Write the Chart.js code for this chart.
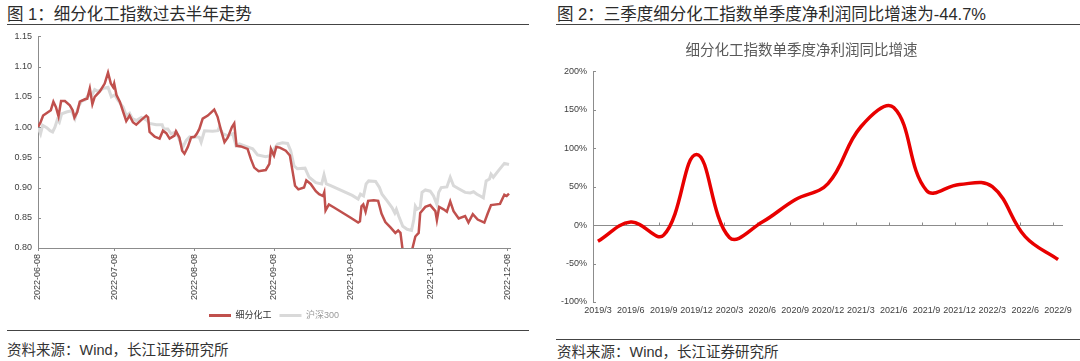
<!DOCTYPE html>
<html>
<head>
<meta charset="utf-8">
<script src="https://cdn.jsdelivr.net/npm/chart.js@4/dist/chart.umd.min.js"></script>
<style>
  body { margin: 0; width: 1080px; height: 361px; background: #fff; position: relative; overflow: hidden;
         font-family: "Liberation Sans", "Noto Sans CJK SC", sans-serif; color: #333; }
  .t { position: absolute; white-space: nowrap; line-height: 20px; }
  .head { font-size: 16.5px; color: #2b2b2b; }
  .src { font-size: 14.5px; color: #333; }
  .rule { position: absolute; height: 0; border-top: 1px solid #444; }
  canvas { position: absolute; }
</style>
</head>
<body>
<div class="t head" style="left:7px; top:4px;">图 1：细分化工指数过去半年走势</div>
<div class="rule" style="left:7px; top:24px; width:522px;"></div>
<canvas id="index-chart" width="540" height="305" style="left:0; top:25px;"></canvas>
<div class="rule" style="left:7px; top:330px; width:522px;"></div>
<div class="t src" style="left:7px; top:340px;">资料来源：Wind，长江证券研究所</div>

<div class="t head" style="left:557px; top:4px;">图 2：三季度细分化工指数单季度净利润同比增速为-44.7%</div>
<div class="rule" style="left:556px; top:24px; width:524px;"></div>
<canvas id="profit-chart" width="540" height="297" style="left:540px; top:30px;"></canvas>
<div class="rule" style="left:556px; top:339px; width:524px;"></div>
<div class="t src" style="left:557px; top:342px;">资料来源：Wind，长江证券研究所</div>

<script>
// 图1 数据：自 2022-06-08 起的天数 + 指数值
var tickDates = ['2022-06-08', '2022-07-08', '2022-08-08', '2022-09-08', '2022-10-08', '2022-11-08', '2022-12-08'];

var indexDays = [0, 1, 2, 4, 5, 6, 7, 8, 9, 10.5, 12.4, 13.5, 14.2, 15.3, 16.3, 18.3, 19.2, 20.2, 21.2, 22.1,
    24.1, 26, 27.3, 28.4, 29.3, 29.7, 30.6, 31.9, 33.2, 34.4, 35.7, 37, 38.3, 40.3, 42.2, 42.9, 43.5, 45.5, 47.4, 48.7,
    50, 51.3, 53.2, 53.8, 55.1, 56.2, 57.1, 58.4, 59.7, 61, 61.9, 62.9, 64.2, 66.2, 68.7, 70, 71.4, 72.7, 74, 75.6,
    76.5, 77.4, 79.1, 81.7, 83, 84.3, 86, 88.8, 90.2, 90.8, 92, 92.9, 94.3, 96.6, 98.2, 99.2, 100.2, 101.5, 103.7, 104.6,
    106.3, 108.3, 109.6, 111.1, 111.6, 112.1, 113.4, 115.4, 121.9, 124.8, 125.5, 126.1, 126.8, 127.7, 128.7, 130.9, 132.6, 133.9, 135.4, 137.4,
    139.3, 140.4, 141.3, 142.2, 143.2, 144.2, 145.1, 146, 147.1, 148.4, 149, 151, 152.9, 154.9, 155.5, 156.4, 158.1, 159.4, 160.7, 162,
    164, 166.5, 167.8, 169.5, 171.4, 174, 175.3, 176.6, 180.1, 181.8, 182.7, 183.6];
var indexValues = [1.000, 1.008, 1.019, 1.025, 1.028, 1.042, 1.033, 1.018, 1.043, 1.043, 1.036, 1.028, 1.016, 1.025, 1.042, 1.046, 1.047, 1.064, 1.038, 1.050,
    1.059, 1.072, 1.090, 1.072, 1.066, 1.072, 1.053, 1.042, 1.025, 1.010, 1.019, 1.008, 1.004, 1.012, 1.019, 1.016, 0.992, 0.984, 0.981, 0.994,
    0.990, 0.981, 0.986, 0.993, 0.983, 0.961, 0.956, 0.967, 0.983, 0.984, 0.989, 0.997, 1.014, 1.019, 1.029, 1.017, 0.994, 0.975, 0.983, 1.000,
    1.006, 0.969, 0.968, 0.964, 0.947, 0.933, 0.927, 0.929, 0.939, 0.964, 0.953, 0.967, 0.966, 0.961, 0.953, 0.928, 0.903, 0.897, 0.900, 0.912,
    0.906, 0.894, 0.889, 0.886, 0.892, 0.862, 0.872, 0.867, 0.850, 0.842, 0.844, 0.869, 0.872, 0.860, 0.878, 0.879, 0.878, 0.857, 0.843, 0.834,
    0.825, 0.829, 0.825, 0.795, 0.770, 0.770, 0.780, 0.800, 0.819, 0.825, 0.858, 0.868, 0.871, 0.861, 0.846, 0.868, 0.864, 0.860, 0.877, 0.861,
    0.849, 0.853, 0.842, 0.856, 0.847, 0.842, 0.857, 0.871, 0.873, 0.888, 0.886, 0.890];

var hs300Days = [0, 1, 1.8, 3.4, 4.7, 5.7, 6.6, 7.5, 8.3, 9.2, 11.1, 13.1, 14.4, 15.7, 17, 18.3, 19.6, 20.8, 22.1, 23.4,
    25.4, 27.3, 28.6, 29.9, 31.2, 33.2, 34.4, 35.7, 36.8, 38.3, 40.3, 42.2, 43.5, 46.1, 48.4, 49, 50.6, 51.9, 53.9, 55.8,
    56.5, 57.8, 59.1, 60.3, 61.6, 62.9, 63.6, 64.9, 68.1, 70.1, 70.7, 72, 73.9, 75.9, 77.2, 78.5, 81.1, 83.7, 85.6, 88.8,
    90.8, 92.1, 93.4, 95.3, 97.3, 98.5, 99.8, 101.1, 104.1, 105.7, 108.3, 110.6, 111.5, 112.4, 114.1, 122.5, 124.8, 125.7, 126.9, 127.9,
    128.9, 131.6, 133.1, 134.1, 136.1, 138, 139.1, 139.7, 140.6, 142.2, 143.9, 145.6, 146.5, 147.1, 147.8, 149, 149.7, 151, 152.9, 154.2,
    155.5, 156.2, 157.2, 159.4, 160.7, 162, 164, 166.5, 168.5, 169.8, 171.1, 172.4, 173.6, 174.7, 176, 176.6, 177.5, 179.5, 181.8, 183.6];
var hs300Values = [1.000, 0.989, 1.003, 0.999, 0.994, 0.992, 1.000, 1.012, 1.008, 1.022, 1.025, 1.027, 1.014, 1.033, 1.043, 1.045, 1.053, 1.051, 1.062, 1.059,
    1.064, 1.066, 1.050, 1.053, 1.044, 1.033, 1.019, 1.023, 1.014, 1.011, 1.016, 1.012, 1.006, 1.004, 1.004, 0.997, 0.997, 0.989, 0.992, 0.972,
    0.967, 0.978, 0.984, 0.983, 0.984, 0.983, 0.975, 0.994, 0.993, 0.994, 1.000, 0.989, 0.986, 0.989, 0.969, 0.972, 0.968, 0.964, 0.954, 0.951,
    0.953, 0.964, 0.972, 0.974, 0.973, 0.961, 0.936, 0.931, 0.932, 0.917, 0.908, 0.906, 0.921, 0.906, 0.903, 0.887, 0.881, 0.889, 0.886, 0.906,
    0.911, 0.910, 0.900, 0.889, 0.878, 0.867, 0.858, 0.864, 0.853, 0.836, 0.831, 0.829, 0.847, 0.869, 0.864, 0.867, 0.892, 0.896, 0.894, 0.886,
    0.872, 0.892, 0.900, 0.901, 0.917, 0.903, 0.898, 0.892, 0.891, 0.893, 0.889, 0.886, 0.883, 0.911, 0.914, 0.922, 0.917, 0.928, 0.940, 0.938];

// 图2 数据：单季度净利润同比增速(%)
var quarters = ['2019/3', '2019/6', '2019/9', '2019/12', '2020/3', '2020/6', '2020/9', '2020/12',
    '2021/3', '2021/6', '2021/9', '2021/12', '2022/3', '2022/6', '2022/9'];
var growth = [-21, 4, -13, 92, -16, 4, 33, 54, 128, 153, 45, 53, 50, -15, -44.7];

var fontStack = '"Liberation Sans", "Noto Sans CJK SC", sans-serif';
var axisColor = '#8c8c8c';
var tickColor = '#404040';

// 月份刻度换算成天数
var dayMs = 86400000;
var tickDays = tickDates.map(function (d) { return (Date.parse(d) - Date.parse(tickDates[0])) / dayMs; });

// y 轴向内的小刻度
var innerTicks = {
    id: 'innerTicks',
    afterDraw: function (chart) {
        var y = chart.scales.y, ctx = chart.ctx;
        ctx.save();
        ctx.strokeStyle = axisColor;
        ctx.lineWidth = 1;
        ctx.beginPath();
        y.ticks.forEach(function (t) {
            var py = Math.round(y.getPixelForValue(t.value)) + 0.5;
            ctx.moveTo(y.right, py);
            ctx.lineTo(y.right + 3, py);
        });
        ctx.stroke();
        ctx.restore();
    }
};

// 图1 折线
new Chart(document.getElementById('index-chart'), {
    type: 'line',
    data: {
        datasets: [{
            label: '细分化工',
            data: indexDays.map(function (d, i) { return { x: d, y: indexValues[i] }; }),
            borderColor: '#C0504D',
            backgroundColor: '#C0504D',
            borderWidth: 2.5,
            pointRadius: 0,
            tension: 0
        }, {
            label: '沪深300',
            data: hs300Days.map(function (d, i) { return { x: d, y: hs300Values[i] }; }),
            borderColor: '#D9D9D9',
            backgroundColor: '#D9D9D9',
            borderWidth: 3,
            pointRadius: 0,
            tension: 0
        }]
    },
    options: {
        responsive: false,
        animation: false,
        layout: { padding: { top: 3, right: 30, left: 0, bottom: 0 } },
        plugins: {
            tooltip: { enabled: false },
            legend: {
                position: 'bottom',
                fullSize: false,
                labels: {
                    boxWidth: 22,
                    boxHeight: 3,
                    padding: 8,
                    font: { size: 9, family: fontStack },
                    generateLabels: function (chart) {
                        var colors = ['#333333', '#9a9a9a'];
                        return chart.data.datasets.map(function (d, i) {
                            return { text: d.label, fillStyle: d.borderColor, strokeStyle: d.borderColor,
                                     lineWidth: 0, fontColor: colors[i], datasetIndex: i, hidden: false };
                        });
                    }
                }
            }
        },
        scales: {
            x: {
                type: 'linear',
                min: 0,
                max: 184,
                afterBuildTicks: function (s) { s.ticks = tickDays.map(function (d) { return { value: d }; }); },
                afterFit: function (s) { s.height = 55; },
                ticks: {
                    autoSkip: false,
                    minRotation: 90,
                    maxRotation: 90,
                    padding: 3,
                    color: tickColor,
                    font: { size: 9, family: fontStack },
                    callback: function (v) { return tickDates[tickDays.indexOf(v)]; }
                },
                grid: { drawOnChartArea: false, color: axisColor, tickLength: 3 },
                border: { color: axisColor }
            },
            y: {
                min: 0.8,
                max: 1.15,
                afterFit: function (s) { s.width = 38; },
                ticks: {
                    stepSize: 0.05,
                    padding: 6,
                    color: tickColor,
                    font: { size: 9, family: fontStack },
                    callback: function (v) { return v.toFixed(2); }
                },
                grid: { display: false, drawTicks: false },
                border: { color: axisColor }
            }
        }
    },
    plugins: [innerTicks]
});

// 图2 零轴及季度刻度
var zeroAxis = {
    id: 'zeroAxis',
    beforeDatasetsDraw: function (chart) {
        var x = chart.scales.x, y = chart.scales.y, ctx = chart.ctx;
        var py = Math.round(y.getPixelForValue(0)) + 0.5;
        ctx.save();
        ctx.strokeStyle = axisColor;
        ctx.lineWidth = 1;
        ctx.beginPath();
        ctx.moveTo(x.left, py);
        ctx.lineTo(x.right, py);
        quarters.forEach(function (q, i) {
            if (i === 0) return;
            var px = Math.round(x.getPixelForValue(i - 0.15)) + 0.5;
            ctx.moveTo(px, py - 3);
            ctx.lineTo(px, py);
        });
        ctx.stroke();
        ctx.restore();
    }
};

new Chart(document.getElementById('profit-chart'), {
    type: 'line',
    data: {
        datasets: [{
            label: '细分化工指数单季度净利润同比增速',
            data: growth.map(function (v, i) { return { x: i, y: v }; }),
            borderColor: '#E80000',
            borderWidth: 3.5,
            pointRadius: 0,
            tension: 0.4
        }]
    },
    options: {
        responsive: false,
        animation: false,
        layout: { padding: { top: 0, right: 17, left: 0, bottom: 0 } },
        plugins: {
            tooltip: { enabled: false },
            legend: { display: false },
            title: {
                display: true,
                text: '细分化工指数单季度净利润同比增速',
                color: '#595959',
                font: { size: 14.5, weight: 'normal', family: fontStack },
                padding: { top: 12, bottom: 12 }
            }
        },
        scales: {
            x: {
                type: 'linear',
                min: -0.15,
                max: 14.15,
                afterBuildTicks: function (s) { s.ticks = quarters.map(function (q, i) { return { value: i }; }); },
                afterFit: function (s) { s.height = 25; },
                ticks: {
                    autoSkip: false,
                    maxRotation: 0,
                    padding: 3,
                    color: tickColor,
                    font: { size: 9, family: fontStack },
                    callback: function (v) { return quarters[v]; }
                },
                grid: { display: false, drawTicks: false },
                border: { display: false }
            },
            y: {
                min: -100,
                max: 200,
                afterFit: function (s) { s.width = 53; },
                ticks: {
                    stepSize: 50,
                    padding: 6,
                    color: tickColor,
                    font: { size: 9, family: fontStack },
                    callback: function (v) { return v + '%'; }
                },
                grid: { display: false, drawTicks: false },
                border: { color: axisColor }
            }
        }
    },
    plugins: [innerTicks, zeroAxis]
});
</script>
</body>
</html>
